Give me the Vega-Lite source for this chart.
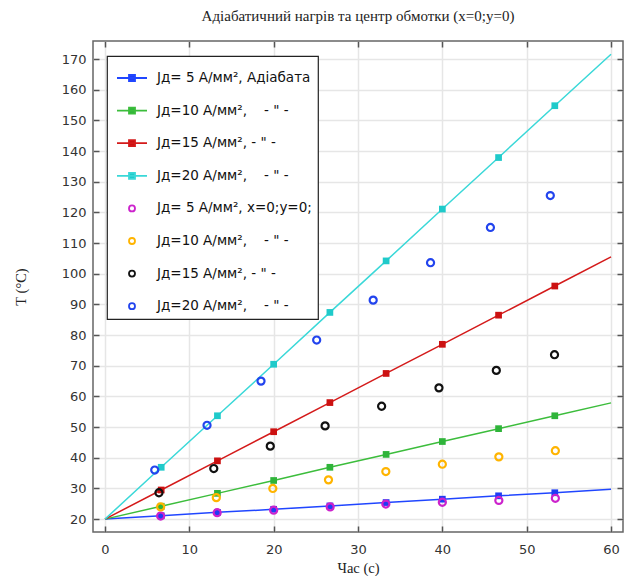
{
  "$schema": "https://vega.github.io/schema/vega-lite/v6.json",
  "autosize": {"type": "none"},
  "width": 530,
  "height": 491,
  "padding": {"left": 93, "top": 41, "right": 1, "bottom": 44},
  "background": "white",
  "title": {"text": "Адіабатичний нагрів та центр обмотки (x=0;y=0)", "font": "Liberation Serif", "fontSize": 15, "fontWeight": "normal", "color": "#222", "offset": 16, "anchor": "middle"},
  "config": {
    "view": {"stroke": "#666", "strokeWidth": 1.5},
    "legend": {"strokeWidth": 1.2}
  },
  "datasets": {
    "adiab": [
      {"s": "A5", "t": 0, "T": 20}, {"s": "A5", "t": 6.667, "T": 21.1}, {"s": "A5", "t": 13.333, "T": 22.2}, {"s": "A5", "t": 20, "T": 23.2}, {"s": "A5", "t": 26.667, "T": 24.3}, {"s": "A5", "t": 33.333, "T": 25.4}, {"s": "A5", "t": 40, "T": 26.5}, {"s": "A5", "t": 46.667, "T": 27.6}, {"s": "A5", "t": 53.333, "T": 28.6}, {"s": "A5", "t": 60, "T": 29.7},
      {"s": "A10", "t": 0, "T": 20}, {"s": "A10", "t": 6.667, "T": 24.2}, {"s": "A10", "t": 13.333, "T": 28.4}, {"s": "A10", "t": 20, "T": 32.6}, {"s": "A10", "t": 26.667, "T": 36.9}, {"s": "A10", "t": 33.333, "T": 41.1}, {"s": "A10", "t": 40, "T": 45.3}, {"s": "A10", "t": 46.667, "T": 49.5}, {"s": "A10", "t": 53.333, "T": 53.7}, {"s": "A10", "t": 60, "T": 57.9},
      {"s": "A15", "t": 0, "T": 20}, {"s": "A15", "t": 6.667, "T": 29.5}, {"s": "A15", "t": 13.333, "T": 39.0}, {"s": "A15", "t": 20, "T": 48.5}, {"s": "A15", "t": 26.667, "T": 58.0}, {"s": "A15", "t": 33.333, "T": 67.5}, {"s": "A15", "t": 40, "T": 77.0}, {"s": "A15", "t": 46.667, "T": 86.5}, {"s": "A15", "t": 53.333, "T": 96.0}, {"s": "A15", "t": 60, "T": 105.5},
      {"s": "A20", "t": 0, "T": 20}, {"s": "A20", "t": 6.667, "T": 36.9}, {"s": "A20", "t": 13.333, "T": 53.7}, {"s": "A20", "t": 20, "T": 70.5}, {"s": "A20", "t": 26.667, "T": 87.4}, {"s": "A20", "t": 33.333, "T": 104.2}, {"s": "A20", "t": 40, "T": 121.1}, {"s": "A20", "t": 46.667, "T": 137.9}, {"s": "A20", "t": 53.333, "T": 154.8}, {"s": "A20", "t": 60, "T": 171.6}
    ],
    "center": [
      {"s": "C5", "t": 6.6, "T": 21.0}, {"s": "C5", "t": 13.3, "T": 22.1}, {"s": "C5", "t": 20.0, "T": 22.9}, {"s": "C5", "t": 26.7, "T": 24.0}, {"s": "C5", "t": 33.3, "T": 24.9}, {"s": "C5", "t": 40.0, "T": 25.5}, {"s": "C5", "t": 46.7, "T": 26.1}, {"s": "C5", "t": 53.4, "T": 26.8},
      {"s": "C10", "t": 6.6, "T": 24.0}, {"s": "C10", "t": 13.2, "T": 27.0}, {"s": "C10", "t": 19.9, "T": 30.0}, {"s": "C10", "t": 26.5, "T": 32.8}, {"s": "C10", "t": 33.3, "T": 35.5}, {"s": "C10", "t": 40.0, "T": 37.9}, {"s": "C10", "t": 46.7, "T": 40.3}, {"s": "C10", "t": 53.4, "T": 42.3},
      {"s": "C15", "t": 6.4, "T": 28.6}, {"s": "C15", "t": 12.9, "T": 36.5}, {"s": "C15", "t": 19.6, "T": 43.8}, {"s": "C15", "t": 26.1, "T": 50.4}, {"s": "C15", "t": 32.8, "T": 56.8}, {"s": "C15", "t": 39.6, "T": 62.8}, {"s": "C15", "t": 46.4, "T": 68.5}, {"s": "C15", "t": 53.3, "T": 73.6},
      {"s": "C20", "t": 5.9, "T": 36.0}, {"s": "C20", "t": 12.1, "T": 50.6}, {"s": "C20", "t": 18.5, "T": 65.0}, {"s": "C20", "t": 25.1, "T": 78.4}, {"s": "C20", "t": 31.8, "T": 91.4}, {"s": "C20", "t": 38.6, "T": 103.6}, {"s": "C20", "t": 45.7, "T": 115.1}, {"s": "C20", "t": 52.8, "T": 125.5}
    ]
  },
  "layer": [
    {
      "data": {"name": "adiab"},
      "mark": {"type": "line", "strokeWidth": 1.5},
      "encoding": {
        "x": {"field": "t", "type": "quantitative", "scale": {"domain": [-1.42, 61.42], "nice": false, "zero": false},
          "axis": {"orient": "bottom", "values": [0, 10, 20, 30, 40, 50, 60], "title": "Час (с)", "titleFont": "Liberation Serif", "titleFontSize": 14.5, "titleFontWeight": "normal", "titleColor": "#222", "titlePadding": 5, "labelFont": "DejaVu Sans", "labelFontSize": 13, "labelColor": "#333", "labelPadding": 17, "tickSize": -6, "tickColor": "#555", "tickWidth": 1.5, "domain": false, "grid": true, "gridColor": "#e6e6e6", "gridWidth": 1.5, "labelFlush": false, "labelOverlap": false}},
        "y": {"field": "T", "type": "quantitative", "scale": {"domain": [15.8, 175.9], "nice": false, "zero": false},
          "axis": {"orient": "left", "values": [20, 30, 40, 50, 60, 70, 80, 90, 100, 110, 120, 130, 140, 150, 160, 170], "title": "T (°C)", "titleFont": "Liberation Serif", "titleFontSize": 14.5, "titleFontWeight": "normal", "titleColor": "#222", "titlePadding": 33, "labelFont": "DejaVu Sans", "labelFontSize": 13, "labelColor": "#333", "labelPadding": 13, "tickSize": -6, "tickColor": "#555", "tickWidth": 1.5, "domain": false, "grid": true, "gridColor": "#e6e6e6", "gridWidth": 1.5, "labelFlush": false, "labelOverlap": false}},
        "stroke": {"field": "s", "type": "nominal", "scale": {"domain": ["A5", "A10", "A15", "A20"], "range": ["#2046ff", "#3cbd3c", "#d41a1a", "#3ad8d8"]}, "legend": null},
        "order": {"field": "t", "type": "quantitative"}
      }
    },
    {
      "data": {"name": "adiab"},
      "transform": [{"filter": "datum.t > 0 && datum.t < 60"}],
      "mark": {"type": "point", "shape": "square", "filled": true, "size": 45, "opacity": 1},
      "encoding": {
        "x": {"field": "t", "type": "quantitative", "axis": null},
        "y": {"field": "T", "type": "quantitative", "axis": null},
        "color": {"field": "s", "type": "nominal", "scale": {"domain": ["A5", "A10", "A15", "A20"], "range": ["#1f3cf5", "#2fb43a", "#cc1111", "#1fcaca"]}, "legend": null}
      }
    },
    {
      "data": {"name": "center"},
      "mark": {"type": "point", "shape": "circle", "filled": false, "size": 50, "strokeWidth": 2.2, "opacity": 1},
      "encoding": {
        "x": {"field": "t", "type": "quantitative", "axis": null},
        "y": {"field": "T", "type": "quantitative", "axis": null},
        "color": {"field": "s", "type": "nominal", "scale": {"domain": ["C5", "C10", "C15", "C20"], "range": ["#cc22cc", "#ffb400", "#111111", "#2244ee"]}, "legend": null}
      }
    },
    {
      "data": {"name": "center"},
      "transform": [{"filter": "false"}],
      "mark": {"type": "point", "opacity": 1, "strokeWidth": 1.8},
      "encoding": {
        "x": {"field": "t", "type": "quantitative", "axis": {"orient": "top", "values": [0, 10, 20, 30, 40, 50, 60], "labels": false, "title": null, "tickSize": -6, "tickColor": "#555", "tickWidth": 1.5, "domain": false, "grid": false}},
        "y": {"field": "T", "type": "quantitative", "axis": {"orient": "right", "values": [20, 30, 40, 50, 60, 70, 80, 90, 100, 110, 120, 130, 140, 150, 160, 170], "labels": false, "title": null, "tickSize": -6, "tickColor": "#555", "tickWidth": 1.5, "domain": false, "grid": false}},
        "stroke": {"field": "s", "type": "nominal", "scale": {"domain": ["A5", "A10", "A15", "A20", "C5", "C10", "C15", "C20"], "range": ["#2046ff", "#3cbd3c", "#d41a1a", "#3ad8d8", "#cc22cc", "#ffb400", "#111111", "#2244ee"]},
          "legend": {"title": null, "orient": "none", "legendX": 14, "legendY": 15, "padding": 6, "symbolSize": 900, "symbolStrokeWidth": 1.8, "symbolOffset": 3, "labelOffset": 9, "labelFont": "DejaVu Sans", "labelFontSize": 13.5, "labelColor": "#111", "labelLimit": 400, "rowPadding": 9.6, "fillColor": "white", "strokeColor": "#222", "symbolOpacity": 1,
            "labelExpr": "datum.value == 'A5' ? 'Jд= 5 А/мм², Адіабата' : datum.value == 'A10' ? 'Jд=10 А/мм²,\u00a0\u00a0\u00a0\u00a0- \" -' : datum.value == 'A15' ? 'Jд=15 А/мм², - \" -' : datum.value == 'A20' ? 'Jд=20 А/мм²,\u00a0\u00a0\u00a0\u00a0- \" -' : datum.value == 'C5' ? 'Jд= 5 А/мм², x=0;y=0;' : datum.value == 'C10' ? 'Jд=10 А/мм²,\u00a0\u00a0\u00a0\u00a0- \" -' : datum.value == 'C15' ? 'Jд=15 А/мм², - \" -' : 'Jд=20 А/мм²,\u00a0\u00a0\u00a0\u00a0- \" -'"}},
        "fill": {"field": "s", "type": "nominal", "scale": {"domain": ["A5", "A10", "A15", "A20", "C5", "C10", "C15", "C20"], "range": ["#1f3cf5", "#2fb43a", "#cc1111", "#1fcaca", "transparent", "transparent", "transparent", "transparent"]},
          "legend": {"title": null, "orient": "none", "legendX": 14, "legendY": 15, "padding": 6, "symbolSize": 900, "symbolStrokeWidth": 1.8, "symbolOffset": 3, "labelOffset": 9, "labelFont": "DejaVu Sans", "labelFontSize": 13.5, "labelColor": "#111", "labelLimit": 400, "rowPadding": 9.6, "fillColor": "white", "strokeColor": "#222", "symbolOpacity": 1,
            "labelExpr": "datum.value == 'A5' ? 'Jд= 5 А/мм², Адіабата' : datum.value == 'A10' ? 'Jд=10 А/мм²,\u00a0\u00a0\u00a0\u00a0- \" -' : datum.value == 'A15' ? 'Jд=15 А/мм², - \" -' : datum.value == 'A20' ? 'Jд=20 А/мм²,\u00a0\u00a0\u00a0\u00a0- \" -' : datum.value == 'C5' ? 'Jд= 5 А/мм², x=0;y=0;' : datum.value == 'C10' ? 'Jд=10 А/мм²,\u00a0\u00a0\u00a0\u00a0- \" -' : datum.value == 'C15' ? 'Jд=15 А/мм², - \" -' : 'Jд=20 А/мм²,\u00a0\u00a0\u00a0\u00a0- \" -'"}},
        "shape": {"field": "s", "type": "nominal", "scale": {"domain": ["A5", "A10", "A15", "A20", "C5", "C10", "C15", "C20"], "range": ["M-1,0H1M-0.2,-0.2H0.2V0.2H-0.2Z", "M-1,0H1M-0.2,-0.2H0.2V0.2H-0.2Z", "M-1,0H1M-0.2,-0.2H0.2V0.2H-0.2Z", "M-1,0H1M-0.2,-0.2H0.2V0.2H-0.2Z", "M-0.2,0A0.2,0.2,0,1,0,0.2,0A0.2,0.2,0,1,0,-0.2,0Z", "M-0.2,0A0.2,0.2,0,1,0,0.2,0A0.2,0.2,0,1,0,-0.2,0Z", "M-0.2,0A0.2,0.2,0,1,0,0.2,0A0.2,0.2,0,1,0,-0.2,0Z", "M-0.2,0A0.2,0.2,0,1,0,0.2,0A0.2,0.2,0,1,0,-0.2,0Z"]},
          "legend": {"title": null, "orient": "none", "legendX": 14, "legendY": 15, "padding": 6, "symbolSize": 900, "symbolStrokeWidth": 1.8, "symbolOffset": 3, "labelOffset": 9, "labelFont": "DejaVu Sans", "labelFontSize": 13.5, "labelColor": "#111", "labelLimit": 400, "rowPadding": 9.6, "fillColor": "white", "strokeColor": "#222", "symbolOpacity": 1,
            "labelExpr": "datum.value == 'A5' ? 'Jд= 5 А/мм², Адіабата' : datum.value == 'A10' ? 'Jд=10 А/мм²,\u00a0\u00a0\u00a0\u00a0- \" -' : datum.value == 'A15' ? 'Jд=15 А/мм², - \" -' : datum.value == 'A20' ? 'Jд=20 А/мм²,\u00a0\u00a0\u00a0\u00a0- \" -' : datum.value == 'C5' ? 'Jд= 5 А/мм², x=0;y=0;' : datum.value == 'C10' ? 'Jд=10 А/мм²,\u00a0\u00a0\u00a0\u00a0- \" -' : datum.value == 'C15' ? 'Jд=15 А/мм², - \" -' : 'Jд=20 А/мм²,\u00a0\u00a0\u00a0\u00a0- \" -'"}}
      }
    }
  ],
  "resolve": {
    "scale": {"color": "independent", "stroke": "independent", "fill": "independent", "shape": "independent"},
    "axis": {"x": "independent", "y": "independent"}
  }
}
